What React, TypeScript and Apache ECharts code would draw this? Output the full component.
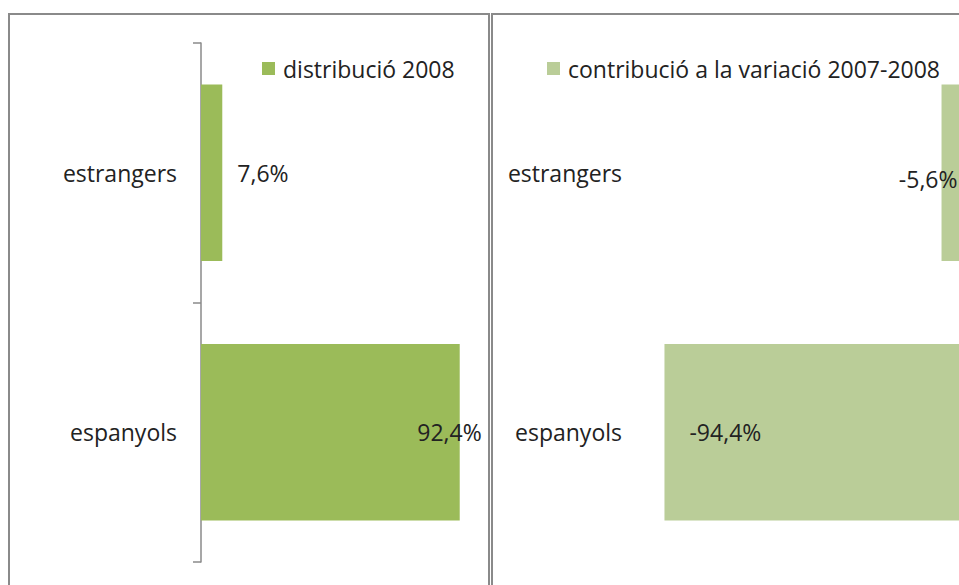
import React, { useEffect, useRef } from "react";
import * as echarts from "echarts";

const categories = ["estrangers", "espanyols"];
const distribucio2008 = [7.6, 92.4];
const contribucio = [-5.6, -94.4];
const seriesNames = ["distribució 2008", "contribució a la variació 2007-2008"];

const FONT = "'Open Sans', Lato, sans-serif";
const FS = 23;
const fmt = (v: number) => v.toFixed(1).replace(".", ",") + "%";

export default function App() {
  const ref = useRef<HTMLDivElement>(null);
  useEffect(() => {
    if (!ref.current) return;
    const chart = echarts.init(ref.current, null, { renderer: "svg" });
    const labelBase = { show: true, color: "#222", fontFamily: FONT, fontSize: FS, formatter: (p: any) => fmt(p.value) };
    chart.setOption({
      animation: false,
      backgroundColor: "#fff",
      textStyle: { fontFamily: FONT },
      graphic: [
        { type: "rect", shape: { x: 9, y: 14, width: 480, height: 620 }, style: { fill: "none", stroke: "#8a8a8a", lineWidth: 2 }, silent: true },
        { type: "rect", shape: { x: 492, y: 14, width: 520, height: 620 }, style: { fill: "none", stroke: "#8a8a8a", lineWidth: 2 }, silent: true },
      ],
      legend: [
        {
          data: [seriesNames[0]], left: 257, top: 52, itemWidth: 13, itemHeight: 13, icon: "rect",
          textStyle: { fontSize: FS, color: "#222", fontFamily: FONT, padding: [0, 0, 0, 3] },
        },
        {
          data: [seriesNames[1]], left: 542, top: 52, itemWidth: 13, itemHeight: 13, icon: "rect",
          textStyle: { fontSize: FS, color: "#222", fontFamily: FONT, padding: [0, 0, 0, 3] },
        },
      ],
      grid: [
        { left: 201, top: 43, width: 280, height: 519 },
        { left: 647, top: 43, width: 325, height: 519 },
      ],
      xAxis: [
        { gridIndex: 0, type: "value", min: 0, max: 100, show: false },
        { gridIndex: 1, type: "value", min: -100, max: 0, show: false },
      ],
      yAxis: [
        {
          gridIndex: 0, type: "category", data: categories, inverse: true,
          axisLine: { show: true, lineStyle: { color: "#8a8a8a", width: 1.5 } },
          axisTick: { show: true, length: 8, lineStyle: { color: "#8a8a8a", width: 1.5 } },
          axisLabel: { margin: 24, fontSize: FS, color: "#222", fontFamily: FONT },
        },
        {
          gridIndex: 1, type: "category", data: categories, inverse: true, position: "left",
          axisLine: { show: false }, axisTick: { show: false },
          axisLabel: { margin: 25, fontSize: FS, color: "#222", fontFamily: FONT },
        },
      ],
      series: [
        {
          name: seriesNames[0], type: "bar", xAxisIndex: 0, yAxisIndex: 0, barCategoryGap: "32%",
          itemStyle: { color: "#9BBB59" },
          data: [
            { value: distribucio2008[0], label: { ...labelBase, position: "right", distance: 15 } },
            { value: distribucio2008[1], label: { ...labelBase, position: "insideRight", distance: 0, offset: [22, 0] } },
          ],
        },
        {
          name: seriesNames[1], type: "bar", xAxisIndex: 1, yAxisIndex: 1, barCategoryGap: "32%",
          itemStyle: { color: "#BACD98" },
          data: [
            { value: contribucio[0], label: { ...labelBase, position: "left", distance: 0, offset: [16, 6] } },
            { value: contribucio[1], label: { ...labelBase, position: "insideLeft", distance: 25 } },
          ],
        },
      ],
    });
    return () => chart.dispose();
  }, []);
  return (
    <div style={{ position: "absolute", left: 0, top: 0, width: 959, height: 585, overflow: "hidden", background: "#fff" }}>
      <div ref={ref} style={{ width: 959, height: 585 }} />
    </div>
  );
}
